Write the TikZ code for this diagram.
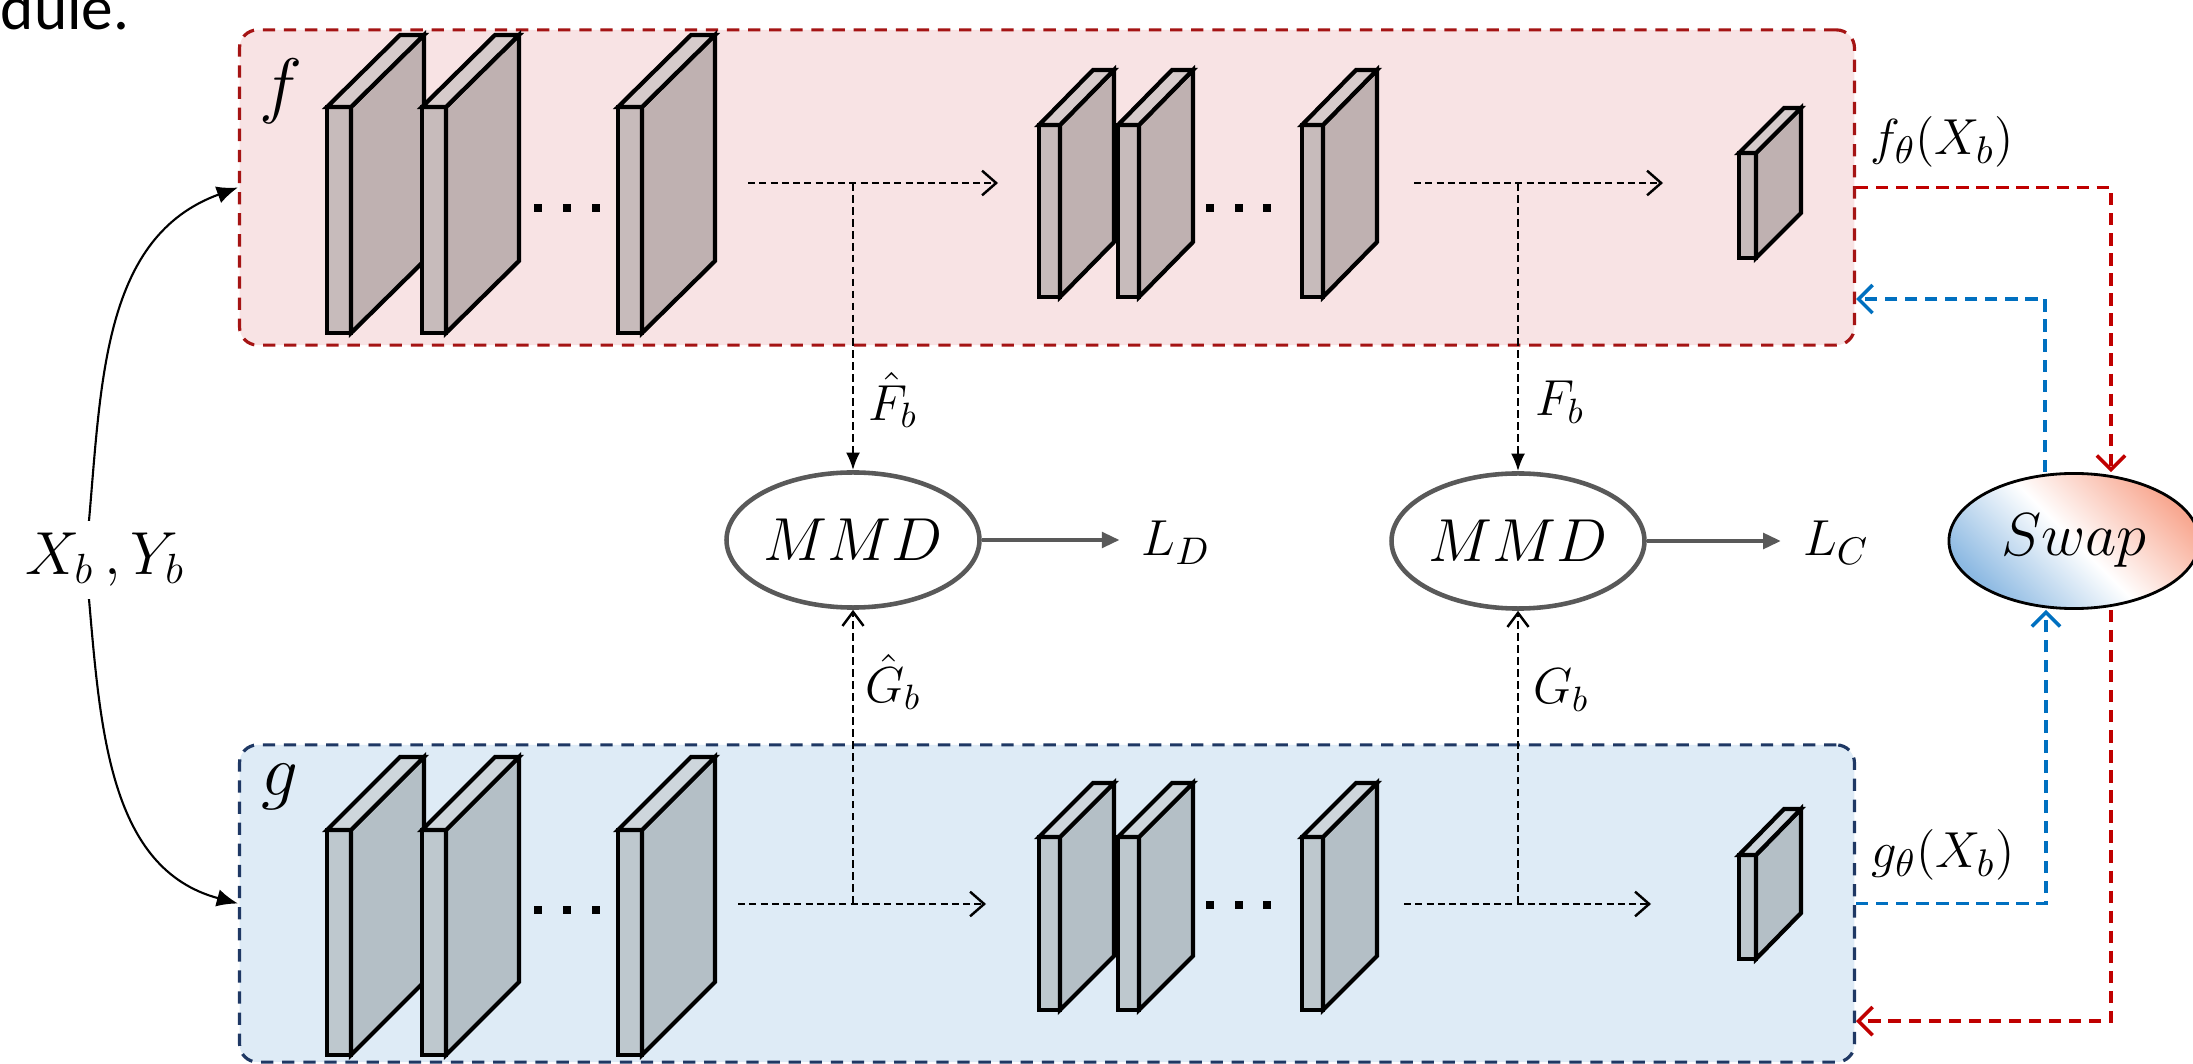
\documentclass[tikz,border=0pt]{standalone}
\usepackage{fontspec}
\newfontfamily\capfont{Carlito}
\usetikzlibrary{arrows.meta,shapes.geometric}

\definecolor{fnetfill}{RGB}{248,227,228}
\definecolor{fnetline}{RGB}{165,20,20}
\definecolor{gnetfill}{RGB}{222,235,246}
\definecolor{gnetline}{RGB}{31,56,100}
\definecolor{ffront}{RGB}{199,187,187}
\definecolor{fside}{RGB}{191,177,177}
\definecolor{ftop}{RGB}{214,203,203}
\definecolor{gfront}{RGB}{190,200,206}
\definecolor{gside}{RGB}{180,191,198}
\definecolor{gtop}{RGB}{206,214,220}
\definecolor{loopred}{RGB}{192,0,0}
\definecolor{loopblue}{RGB}{0,112,192}
\definecolor{mmdgray}{RGB}{89,89,89}
\definecolor{swapred}{RGB}{248,168,145}
\definecolor{swapblue}{RGB}{140,185,226}

% feature map: front x, front top y, width, height, depth x, depth y, colour set
\newcommand{\fmap}[7]{%
  \filldraw[fmapline, fill=#7front] (#1,#2) rectangle ++(#3,#4);
  \filldraw[fmapline, fill=#7side] (#1+#3,#2) -- ++(#5,-#6) -- ++(0,#4) -- ++(-#5,#6) -- cycle;
  \filldraw[fmapline, fill=#7top] (#1,#2) -- ++(#5,-#6) -- ++(#3,0) -- ++(-#5,#6) -- cycle;
}

\tikzset{
  fmapline/.style={line width=1.2pt},
  netbox/.style={rounded corners=0.18cm, minimum width=16.14cm, minimum height=3.15cm,
    line width=0.9pt, dash pattern=on 3.5pt off 2.5pt},
  netname/.style={font=\fontsize{21}{25}\selectfont},
  flow/.style={line width=0.7pt, dash pattern=on 2pt off 1.2pt, -{Straight Barb[length=4pt,width=7pt]}},
  tapdown/.style={line width=0.7pt, dash pattern=on 2.2pt off 1.2pt, -{Latex[length=5pt,width=4pt]}},
  tapup/.style={line width=0.7pt, dash pattern=on 2.2pt off 1.2pt, -{Straight Barb[length=4pt,width=6pt]}},
  mmd/.style={ellipse, draw=mmdgray, fill=white, line width=1.3pt, minimum width=2.49cm,
    minimum height=1.35cm, inner sep=0pt, font=\fontsize{16}{19}\selectfont},
  loss/.style={draw=mmdgray, line width=0.9pt, -{Triangle[length=5pt,width=4.5pt]}, shorten >=0.1cm},
  lbl/.style={inner sep=1pt, font=\fontsize{14}{17}\selectfont},
  inarrow/.style={line width=0.6pt, -{Latex[length=6pt,width=5pt]}},
  redloop/.style={draw=loopred, line width=1pt, dash pattern=on 3.5pt off 2.2pt,
    -{Straight Barb[length=4pt,width=8pt]}},
  blueloop/.style={draw=loopblue, line width=1pt, dash pattern=on 3.5pt off 2.2pt,
    -{Straight Barb[length=4pt,width=8pt]}}
}

\begin{document}
\begin{tikzpicture}[x=0.01cm, y=-0.01cm]
\useasboundingbox (0,0) rectangle (2193,1064);
\node[anchor=base east, inner sep=0pt, font=\capfont\fontsize{18}{21}\selectfont] (cap) at (130,30) {dule.};

% the two networks
\node[netbox, draw=fnetline, fill=fnetfill] (fnet) at (1047,187.5) {};
\node[netbox, draw=gnetline, fill=gnetfill, minimum height=3.17cm] (gnet) at (1047,903.5) {};
\node[netname] (flbl) at (281,91) {$f$};
\node[netname] (glbl) at (280,787) {$g$};

\foreach \x in {327,422,618} {\fmap{\x}{107}{24}{226}{73}{72}{f} \fmap{\x}{830}{24}{225}{73}{73}{g}}
\foreach \x in {1039,1118,1302} {\fmap{\x}{125}{21}{172}{54}{55}{f} \fmap{\x}{837}{21}{173}{54}{54}{g}}
\fmap{1739}{153}{17}{105}{45}{45}{f}
\fmap{1739}{855}{17}{104}{45}{46}{g}
\foreach \x in {538,567,596} {\fill (\x-4,204) rectangle ++(8,8); \fill (\x-4,906) rectangle ++(8,8);}
\foreach \x in {1210,1239,1267} {\fill (\x-4,204) rectangle ++(8,8); \fill (\x-4,901) rectangle ++(8,8);}

\coordinate (fa) at (748,183); \coordinate (fj) at (853,183); \coordinate (fb) at (998,183);
\coordinate (fc) at (1414,183); \coordinate (fk) at (1518,183); \coordinate (fd) at (1663,183);
\coordinate (ga) at (738,904); \coordinate (gj) at (853,904); \coordinate (gb) at (986,904);
\coordinate (gc) at (1404,904); \coordinate (gk) at (1518,904); \coordinate (gd) at (1651,904);
\draw[flow] (fa) -- (fb);
\draw[flow] (fc) -- (fd);
\draw[flow] (ga) -- (gb);
\draw[flow] (gc) -- (gd);

% MMD losses
\node[mmd] (mmdd) at (853,540) {$MMD$};
\node[mmd] (mmdc) at (1518,541) {$MMD$};
\node[font=\fontsize{15}{18}\selectfont] (ld) at (1176,543) {$L_D$};
\node[font=\fontsize{15}{18}\selectfont] (lc) at (1836,543) {$L_C$};
\draw[loss] (mmdd.east) -- (mmdd.east -| ld.west);
\draw[loss] (mmdc.east) -- (mmdc.east -| lc.west);
\draw[tapdown] (fj) -- (mmdd.north);
\draw[tapup] (gj) -- (mmdd.south);
\draw[tapdown] (fk) -- (mmdc.north);
\draw[tapup] (gk) -- (mmdc.south);
\node[lbl] (fhat) at (893,400) {$\hat{F}_b$};
\node[lbl] (ghat) at (893,682) {$\hat{G}_b$};
\node[lbl] (fb2) at (1560,402) {$F_b$};
\node[lbl] (gb2) at (1561,690) {$G_b$};

% input batch
\node[font=\fontsize{17}{20}\selectfont] (xy) at (105,560) {$X_b\,,Y_b$};
\draw[inarrow] ([xshift=-0.16cm]xy.north) to[out=85,in=200] (fnet.west);
\draw[inarrow] ([xshift=-0.16cm]xy.south) to[out=-85,in=165] (gnet.west);

% swap
\node[ellipse, draw=black, line width=0.8pt, minimum width=2.5cm, minimum height=1.35cm,
  top color=swapred, bottom color=swapblue, middle color=white, shading angle=-45,
  font=\fontsize{17}{20}\selectfont] (swap) at (2074,541) {$Swap$};
\node[font=\fontsize{15}{18}\selectfont] (fout) at (1942,142) {$f_\theta(X_b)$};
\node[font=\fontsize{15}{18}\selectfont] (gout) at (1943,855) {$g_\theta(X_b)$};
\draw[redloop] (fnet.east) -| ([xshift=0.37cm]swap.north);
\draw[blueloop] ([xshift=-0.29cm]swap.north) |- ([yshift=-1.115cm]fnet.east);
\draw[blueloop] (gnet.east) -| ([xshift=-0.28cm]swap.south);
\draw[redloop] ([xshift=0.37cm]swap.south) |- ([yshift=-1.175cm]gnet.east);
\end{tikzpicture}
\end{document}
